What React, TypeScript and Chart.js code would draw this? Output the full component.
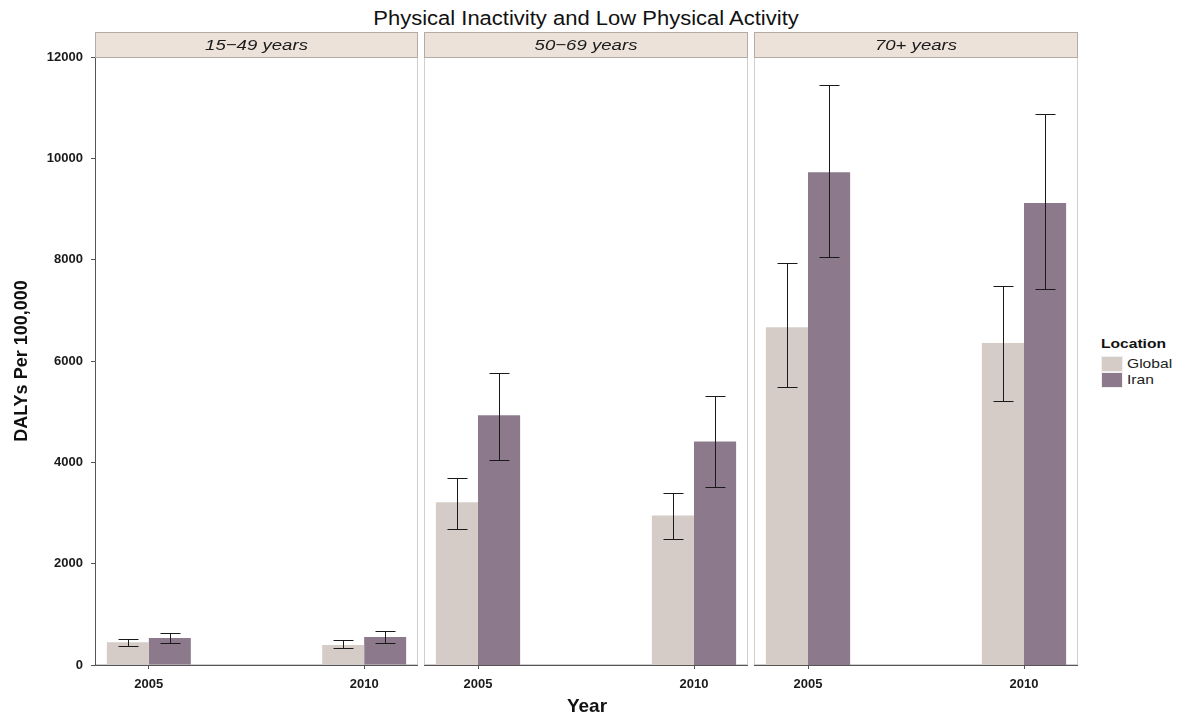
import React, { useEffect, useRef } from 'react';
import { Chart, registerables } from 'chart.js';

Chart.register(...registerables);

// ---------------- data ----------------
const chartTitle = 'Physical Inactivity and Low Physical Activity';
const panelLabels = ['15−49 years', '50−69 years', '70+ years'];
const years = [2005, 2010];
const seriesNames = ['Global', 'Iran'];
const seriesColors = ['#d5ccc7', '#8c7a8c'];
const yTicks = [0, 2000, 4000, 6000, 8000, 10000, 12000];

// per panel: [2005, 2010]
const globalMean = [[450, 395], [3210, 2950], [6665, 6355]];
const globalLower = [[375, 340], [2690, 2485], [5480, 5205]];
const globalUpper = [[515, 490], [3690, 3395], [7925, 7490]];
const iranMean = [[535, 555], [4930, 4410], [9725, 9120]];
const iranLower = [[440, 435], [4050, 3520], [8055, 7430]];
const iranUpper = [[630, 670], [5760, 5305], [11440, 10875]];

const FONT = '"Liberation Sans", Arial, Helvetica, sans-serif';
Chart.defaults.font.family = FONT;

const W = 1177;
const H = 715;
const PANEL_TOP = 57;
const STRIP_TOP = 32;

const panelBoxes = [
  { left: 0, width: 418, yAxis: true },
  { left: 424, width: 324, yAxis: false },
  { left: 754, width: 324, yAxis: false },
];

function makeDecoPlugin(label: string) {
  return {
    id: 'panelDeco',
    beforeDraw(chart: any) {
      const { ctx, chartArea: a } = chart;
      ctx.save();
      ctx.fillStyle = '#ffffff';
      ctx.fillRect(a.left, a.top, a.right - a.left, a.bottom - a.top);
      ctx.strokeStyle = '#cfcfcf';
      ctx.lineWidth = 1;
      ctx.strokeRect(a.left + 0.5, a.top + 0.5, a.right - a.left - 1, a.bottom - a.top - 1);
      ctx.restore();
    },
    afterDatasetsDraw(chart: any) {
      const { ctx } = chart;
      const yScale = chart.scales.y;
      ctx.save();
      ctx.strokeStyle = '#1a1a1a';
      ctx.lineWidth = 1;
      chart.data.datasets.forEach((ds: any, s: number) => {
        const meta = chart.getDatasetMeta(s);
        meta.data.forEach((el: any, i: number) => {
          const x = Math.round(el.x) + 0.5;
          const yHi = Math.round(yScale.getPixelForValue(ds.errHigh[i])) + 0.5;
          const yLo = Math.round(yScale.getPixelForValue(ds.errLow[i])) + 0.5;
          const half = 10;
          ctx.beginPath();
          ctx.moveTo(x, yHi);
          ctx.lineTo(x, yLo);
          ctx.moveTo(x - half, yHi);
          ctx.lineTo(x + half, yHi);
          ctx.moveTo(x - half, yLo);
          ctx.lineTo(x + half, yLo);
          ctx.stroke();
        });
      });
      ctx.restore();
    },
    afterDraw(chart: any) {
      const { ctx, chartArea: a } = chart;
      ctx.save();
      ctx.fillStyle = '#ece2da';
      ctx.fillRect(a.left, STRIP_TOP, a.right - a.left, a.top - STRIP_TOP);
      ctx.strokeStyle = '#b3aba5';
      ctx.lineWidth = 1;
      ctx.strokeRect(a.left + 0.5, STRIP_TOP + 0.5, a.right - a.left - 1, a.top - STRIP_TOP);
      const cx = (a.left + a.right) / 2;
      const cy = (STRIP_TOP + a.top) / 2 + 1;
      ctx.translate(cx, cy);
      ctx.scale(1.2, 1);
      ctx.fillStyle = '#1a1a1a';
      ctx.font = `italic 15.5px ${FONT}`;
      ctx.textAlign = 'center';
      ctx.textBaseline = 'middle';
      ctx.fillText(label, 0, 0);
      ctx.restore();
    },
  };
}

function buildChart(canvas: HTMLCanvasElement, p: number, showY: boolean) {
  const means = [globalMean[p], iranMean[p]];
  const lowers = [globalLower[p], iranLower[p]];
  const uppers = [globalUpper[p], iranUpper[p]];
  const datasets = seriesNames.map((name, s) => ({
    label: name,
    data: years.map((yr, i) => ({ x: yr, y: means[s][i] })),
    backgroundColor: seriesColors[s],
    borderWidth: 0,
    categoryPercentage: 0.39,
    barPercentage: 1,
    errLow: lowers[s],
    errHigh: uppers[s],
  }));

  return new Chart(canvas, {
    type: 'bar',
    data: { datasets } as any,
    plugins: [makeDecoPlugin(panelLabels[p])],
    options: {
      animation: false,
      responsive: false,
      devicePixelRatio: 1,
      layout: { padding: { top: PANEL_TOP, left: 0, right: 0, bottom: 0 } },
      plugins: {
        legend: { display: false },
        tooltip: { enabled: false },
        title: { display: false },
      },
      scales: {
        x: {
          type: 'linear',
          offset: false,
          min: years[0] - 1.25,
          max: years[1] + 1.25,
          afterBuildTicks: (axis: any) => {
            axis.ticks = years.map((v) => ({ value: v }));
          },
          afterFit: (scale: any) => {
            scale.height = 50;
          },
          ticks: {
            callback: (v: any) => String(v),
            font: { size: 13, weight: 'bold' },
            color: '#1a1a1a',
            padding: 8,
            maxRotation: 0,
            autoSkip: false,
          },
          grid: { offset: false, drawOnChartArea: false, drawTicks: true, tickLength: 4, color: '#555' },
          border: { display: true, color: '#555', width: 1 },
        } as any,
        y: {
          display: showY,
          min: 0,
          max: 12000,
          afterBuildTicks: (axis: any) => {
            axis.ticks = yTicks.map((v) => ({ value: v }));
          },
          afterFit: (scale: any) => {
            scale.width = showY ? 95 : 0;
          },
          ticks: {
            callback: (v: any) => String(v),
            font: { size: 13, weight: 'bold' },
            color: '#1a1a1a',
            padding: 8,
          },
          grid: { drawOnChartArea: false, drawTicks: true, tickLength: 4, color: '#555' },
          border: { display: true, color: '#555', width: 1 },
          title: {
            display: true,
            text: 'DALYs Per 100,000',
            font: { size: 18, weight: 'bold' },
            color: '#111',
            padding: { top: 11, bottom: 0 },
          },
        } as any,
      },
    },
  });
}

function Panel({ p, left, width, showY }: { p: number; left: number; width: number; showY: boolean }) {
  const ref = useRef<HTMLCanvasElement | null>(null);
  useEffect(() => {
    if (!ref.current) return;
    const chart = buildChart(ref.current, p, showY);
    return () => chart.destroy();
  }, [p, showY]);
  return (
    <canvas
      ref={ref}
      width={width}
      height={H}
      style={{ position: 'absolute', left, top: 0, width, height: H, display: 'block' }}
    />
  );
}

export default function App() {
  return (
    <div
      style={{
        position: 'absolute',
        left: 0,
        top: 0,
        width: W,
        height: H,
        background: '#ffffff',
        overflow: 'hidden',
        fontFamily: FONT,
      }}
    >
      <div
        style={{
          position: 'absolute',
          left: 586,
          top: 7,
          lineHeight: '22px',
          fontSize: 20,
          color: '#111',
          whiteSpace: 'nowrap',
          transform: 'translateX(-50%) scaleX(1.1)',
        }}
      >
        {chartTitle}
      </div>
      {panelBoxes.map((b, p) => (
        <Panel key={p} p={p} left={b.left} width={b.width} showY={b.yAxis} />
      ))}
      <div
        style={{
          position: 'absolute',
          left: 587,
          top: 696,
          lineHeight: '20px',
          fontSize: 19,
          fontWeight: 'bold',
          color: '#111',
          transform: 'translateX(-50%)',
        }}
      >
        Year
      </div>
      <div style={{ position: 'absolute', left: 1101, top: 335 }}>
        <div
          style={{
            fontSize: 13,
            fontWeight: 'bold',
            lineHeight: '18px',
            color: '#111',
            transform: 'scaleX(1.2)',
            transformOrigin: 'left center',
            whiteSpace: 'nowrap',
          }}
        >
          Location
        </div>
        {seriesNames.map((name, s) => (
          <div key={name} style={{ display: 'flex', alignItems: 'center', height: 16, marginTop: s === 0 ? 3 : 0 }}>
            <div style={{ width: 22, height: 16, background: '#f0f0f0', position: 'relative' }}>
              <div style={{ position: 'absolute', left: 1, top: 1, right: 1, bottom: 1, background: seriesColors[s] }} />
            </div>
            <div
              style={{
                marginLeft: 4,
                fontSize: 13,
                lineHeight: '16px',
                color: '#222',
                transform: 'scaleX(1.2)',
                transformOrigin: 'left center',
                whiteSpace: 'nowrap',
              }}
            >
              {name}
            </div>
          </div>
        ))}
      </div>
    </div>
  );
}
